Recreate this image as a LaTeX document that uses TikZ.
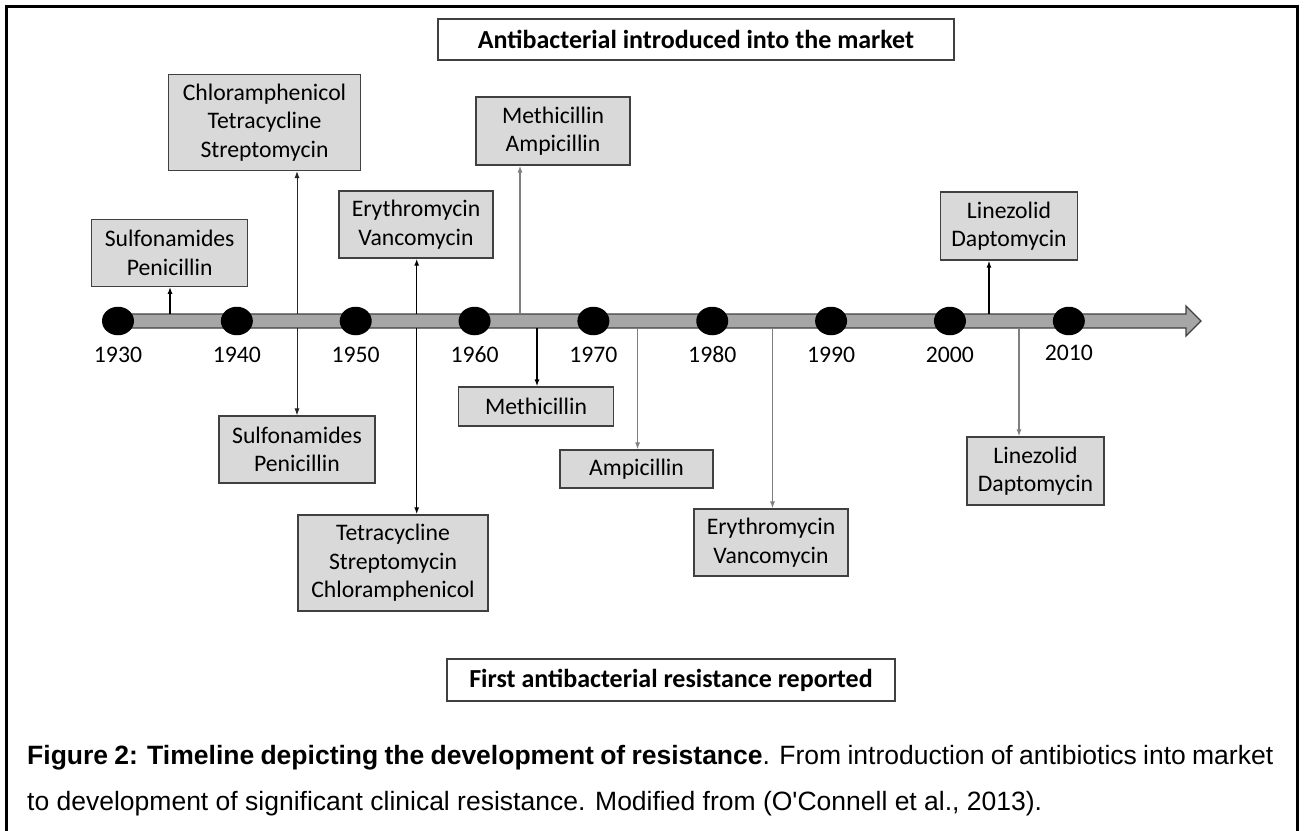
\documentclass[tikz,border=0pt]{standalone}
\usepackage{fontspec}
\setmainfont{Carlito}
\newfontfamily\capfont{Liberation Sans}
\usetikzlibrary{arrows.meta,shapes.geometric}
\definecolor{boxgray}{HTML}{D9D9D9}
\definecolor{edgegray}{HTML}{404040}
\definecolor{bargray}{HTML}{A6A6A6}
\definecolor{lightline}{HTML}{7F7F7F}
\begin{document}
\begin{tikzpicture}[x=1pt,y=-1pt,
  drug/.style={draw=edgegray, fill=boxgray, line width=1.2pt, align=center, inner sep=0pt,
    font=\fontsize{23.7}{28.5}\selectfont},
  head/.style={draw=edgegray, fill=white, line width=1.2pt, inner sep=0pt,
    font=\fontsize{26}{30}\selectfont\bfseries},
  yr/.style={font=\fontsize{23.7}{28}\selectfont, inner sep=0pt, anchor=base,
    text height=16pt, text depth=0pt},
  dot/.style={ellipse, fill=black, minimum width=32pt, minimum height=28.5pt, inner sep=0pt},
  tip/.style={-{Latex[length=7pt,width=5pt]}},
  blk/.style={tip, draw=black, line width=1.4pt},
  thin/.style={tip, draw=black!85, line width=0.9pt},
  gry/.style={tip, draw=lightline, line width=1.3pt},
  captext/.style={anchor=base west, inner sep=0pt, font=\capfont\fontsize{26.5}{30}\selectfont}
]
\useasboundingbox (0,0) rectangle (1306,830);
\fill[white] (0,0) rectangle (1306,830);
% frame
\draw[line width=3pt] (6,840) -- (6,6.5) -- (1297,6.5) -- (1297,840);

% headers
\node[head, minimum width=516pt, minimum height=41pt] (hTop) at (696,39.5) {Antibacterial introduced into the market};
\node[head, minimum width=448pt, minimum height=42pt] (hBot) at (671,680) {First antibacterial resistance reported};

% timeline bar
\draw[fill=bargray, draw=edgegray, line width=1.3pt]
  (118,314) -- (1186,314) -- (1186,306) -- (1201,321) -- (1186,336) -- (1186,328) -- (118,328) -- cycle;

% year dots and labels
\foreach \i/\yr/\bl in {0/1930/362.5,1/1940/362.5,2/1950/362.5,3/1960/362.5,4/1970/362.5,5/1980/362.5,6/1990/362.5,7/2000/362.5,8/2010/360.5}{
  \node[dot] (c\yr) at ({118+118.85*\i},321) {};
  \node[yr] (l\yr) at ({118+118.85*\i},\bl) {\yr};
}

% top boxes
\node[drug, minimum width=156pt, minimum height=67pt] (tSulf) at (169.7,252.7) {Sulfonamides\\Penicillin};
\node[drug, minimum width=192pt, minimum height=96pt] (tChlor) at (264.5,122.5) {Chloramphenicol\\Tetracycline\\Streptomycin};
\node[drug, minimum width=154pt, minimum height=67pt] (tEry) at (416,224.5) {Erythromycin\\Vancomycin};
\node[drug, minimum width=154pt, minimum height=68pt] (tMeth) at (553,131) {Methicillin\\Ampicillin};
\node[drug, minimum width=137pt, minimum height=68pt] (tLin) at (1009,226) {Linezolid\\Daptomycin};

% bottom boxes
\node[drug, minimum width=156pt, minimum height=67pt] (bSulf) at (297,449.5) {Sulfonamides\\Penicillin};
\node[drug, minimum width=190pt, minimum height=96pt] (bTetra) at (393,563) {Tetracycline\\Streptomycin\\Chloramphenicol};
\node[drug, minimum width=155pt, minimum height=39pt] (bMeth) at (536,406.5) {Methicillin};
\node[drug, minimum width=153pt, minimum height=38pt] (bAmp) at (636.5,469) {Ampicillin};
\node[drug, minimum width=154pt, minimum height=67pt] (bEry) at (771,542.5) {Erythromycin\\Vancomycin};
\node[drug, minimum width=137pt, minimum height=68pt] (bLin) at (1035.5,471) {Linezolid\\Daptomycin};

% connector roots on the bar
\coordinate (uSulf) at (170,314);
\coordinate (uChlor) at (297,314);
\coordinate (dSulf) at (297,328);
\coordinate (uEry) at (416.7,314);
\coordinate (dTetra) at (416.7,328);
\coordinate (uMeth) at (520,314);
\coordinate (dMeth) at (537,328);
\coordinate (dAmp) at (637.6,328);
\coordinate (dEry) at (772.5,328);
\coordinate (uLin) at (989,314);
\coordinate (dLin) at (1019,328);

\draw[blk] (uSulf) -- (uSulf |- tSulf.south);
\draw[thin] (uChlor) -- (uChlor |- tChlor.south);
\draw[thin] (dSulf) -- (dSulf |- bSulf.north);
\draw[blk] (uEry) -- (uEry |- tEry.south);
\draw[blk] (dTetra) -- (dTetra |- bTetra.north);
\draw[gry] (uMeth) -- (uMeth |- tMeth.south);
\draw[blk] (dMeth) -- (dMeth |- bMeth.north);
\draw[gry] (dAmp) -- (dAmp |- bAmp.north);
\draw[gry] (dEry) -- (dEry |- bEry.north);
\draw[blk] (uLin) -- (uLin |- tLin.south);
\draw[gry] (dLin) -- (dLin |- bLin.north);

% caption
\node[captext] (cap1) at (27,764) {\makebox[1246pt][s]{\textbf{Figure 2: Timeline depicting the development of resistance}. From introduction of antibiotics into market}};
\node[captext] (cap2) at (27,810) {to development of significant clinical resistance. Modified from (O\textquotesingle Connell et al., 2013).};
\end{tikzpicture}
\end{document}
